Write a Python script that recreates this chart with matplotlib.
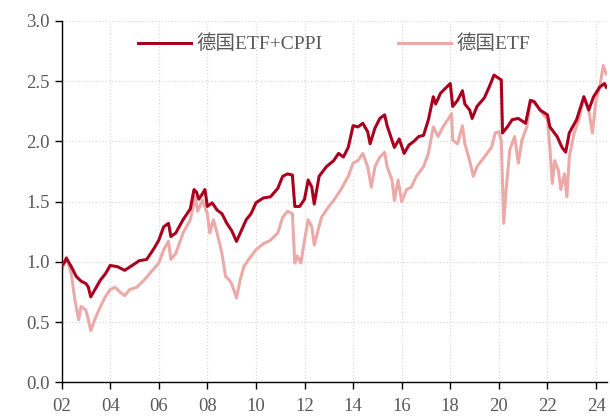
import numpy as np
import matplotlib.pyplot as plt

plt.rcParams['font.family'] = ['Liberation Serif', 'Noto Sans CJK SC']

# 德国ETF+CPPI (decimal year, value)
cppi_t = [2002.0, 2002.1, 2002.2, 2002.4, 2002.6, 2002.8, 2003.0, 2003.1, 2003.2, 2003.4,
          2003.6, 2003.8, 2004.0, 2004.3, 2004.6, 2004.9, 2005.2, 2005.5, 2005.8, 2006.0,
          2006.2, 2006.4, 2006.5, 2006.7, 2007.0, 2007.3, 2007.45, 2007.55, 2007.65, 2007.75,
          2007.9, 2008.0, 2008.2, 2008.4, 2008.6, 2008.8, 2009.0, 2009.2, 2009.4, 2009.6,
          2009.8, 2010.0, 2010.3, 2010.6, 2010.9, 2011.1, 2011.3, 2011.5, 2011.6, 2011.8,
          2012.0, 2012.15, 2012.3, 2012.4, 2012.6, 2012.9, 2013.2, 2013.4, 2013.6, 2013.8,
          2014.0, 2014.2, 2014.4, 2014.6, 2014.7, 2014.9, 2015.1, 2015.3, 2015.4, 2015.6,
          2015.7, 2015.9, 2016.1, 2016.3, 2016.5, 2016.7, 2016.9, 2017.1, 2017.3, 2017.4,
          2017.6, 2017.8, 2018.0, 2018.1, 2018.3, 2018.5, 2018.6, 2018.8, 2018.9, 2019.1,
          2019.4, 2019.6, 2019.8, 2019.95, 2020.1, 2020.15, 2020.35, 2020.55, 2020.8, 2021.1,
          2021.3, 2021.45, 2021.7, 2022.0, 2022.1, 2022.4, 2022.6, 2022.75, 2022.9, 2023.2,
          2023.5, 2023.7, 2023.9, 2024.15, 2024.35, 2024.42]
cppi_v = [0.97, 0.99, 1.03, 0.96, 0.88, 0.84, 0.82, 0.79, 0.71, 0.78,
          0.85, 0.90, 0.97, 0.96, 0.93, 0.97, 1.01, 1.02, 1.11, 1.18,
          1.29, 1.32, 1.21, 1.24, 1.35, 1.44, 1.60, 1.58, 1.52, 1.55,
          1.60, 1.46, 1.49, 1.43, 1.40, 1.32, 1.26, 1.17, 1.26, 1.35,
          1.40, 1.49, 1.53, 1.54, 1.61, 1.71, 1.73, 1.72, 1.46, 1.46,
          1.52, 1.68, 1.62, 1.48, 1.71, 1.79, 1.84, 1.90, 1.87, 1.95,
          2.13, 2.12, 2.15, 2.08, 1.98, 2.11, 2.19, 2.22, 2.13, 2.01,
          1.95, 2.02, 1.90, 1.97, 2.00, 2.04, 2.05, 2.18, 2.37, 2.31,
          2.40, 2.44, 2.48, 2.29, 2.34, 2.42, 2.31, 2.26, 2.19, 2.29,
          2.36, 2.45, 2.55, 2.53, 2.51, 2.07, 2.12, 2.18, 2.19, 2.15,
          2.34, 2.33, 2.26, 2.22, 2.12, 2.04, 1.95, 1.91, 2.07, 2.18,
          2.37, 2.26, 2.37, 2.45, 2.48, 2.45]

# 德国ETF
etf_t = [2002.0, 2002.2, 2002.4, 2002.55, 2002.7, 2002.8, 2003.0, 2003.1, 2003.2, 2003.4,
         2003.6, 2003.8, 2004.0, 2004.2, 2004.4, 2004.6, 2004.8, 2005.1, 2005.4, 2005.7,
         2006.0, 2006.2, 2006.4, 2006.5, 2006.7, 2007.0, 2007.3, 2007.5, 2007.6, 2007.8,
         2008.0, 2008.1, 2008.25, 2008.4, 2008.6, 2008.75, 2008.9, 2009.0, 2009.2, 2009.35,
         2009.5, 2009.7, 2010.0, 2010.3, 2010.6, 2010.9, 2011.1, 2011.3, 2011.5, 2011.6,
         2011.7, 2011.85, 2012.0, 2012.15, 2012.3, 2012.4, 2012.7, 2013.0, 2013.2, 2013.5,
         2013.8, 2014.0, 2014.2, 2014.4, 2014.6, 2014.75, 2014.9, 2015.1, 2015.3, 2015.4,
         2015.6, 2015.7, 2015.85, 2016.0, 2016.2, 2016.4, 2016.6, 2016.9, 2017.1, 2017.3,
         2017.5, 2017.7, 2017.9, 2018.05, 2018.1, 2018.3, 2018.5, 2018.6, 2018.8, 2018.95,
         2019.1, 2019.4, 2019.7, 2019.85, 2020.0, 2020.1, 2020.2, 2020.3, 2020.45, 2020.65,
         2020.8, 2020.95, 2021.15, 2021.3, 2021.45, 2021.7, 2022.0, 2022.1, 2022.2, 2022.3,
         2022.45, 2022.55, 2022.7, 2022.8, 2022.9, 2023.1, 2023.3, 2023.5, 2023.7, 2023.85,
         2024.0, 2024.15, 2024.3, 2024.42]
etf_v = [0.93, 1.04, 0.90, 0.68, 0.52, 0.63, 0.60, 0.52, 0.43, 0.54,
         0.63, 0.71, 0.77, 0.79, 0.75, 0.72, 0.77, 0.79, 0.85, 0.92,
         0.99, 1.10, 1.17, 1.02, 1.07, 1.24, 1.35, 1.54, 1.42, 1.51,
         1.40, 1.24, 1.35, 1.24, 1.07, 0.88, 0.85, 0.82, 0.70, 0.85,
         0.96, 1.02, 1.10, 1.15, 1.18, 1.24, 1.37, 1.42, 1.40, 0.99,
         1.05, 0.99, 1.18, 1.35, 1.29, 1.14, 1.37, 1.46, 1.51, 1.60,
         1.71, 1.82, 1.84, 1.90, 1.79, 1.62, 1.79, 1.87, 1.91, 1.79,
         1.68, 1.51, 1.68, 1.50, 1.60, 1.62, 1.71, 1.79, 1.90, 2.12,
         2.04, 2.12, 2.18, 2.23, 2.01, 1.98, 2.13, 1.98, 1.84, 1.71,
         1.79, 1.87, 1.95, 2.07, 2.08, 2.01, 1.32, 1.60, 1.93, 2.04,
         1.82, 2.01, 2.12, 2.34, 2.33, 2.26, 2.18, 1.95, 1.65, 1.84,
         1.76, 1.60, 1.73, 1.54, 1.87, 2.07, 2.18, 2.37, 2.26, 2.07,
         2.34, 2.45, 2.63, 2.56]

x_ticks = [2002, 2004, 2006, 2008, 2010, 2012, 2014, 2016, 2018, 2020, 2022, 2024]
x_labels = ['02', '04', '06', '08', '10', '12', '14', '16', '18', '20', '22', '24']
y_ticks = [0.0, 0.5, 1.0, 1.5, 2.0, 2.5, 3.0]

fig = plt.figure(figsize=(6.10, 4.17), dpi=100)
ax = fig.add_axes([0.101, 0.083, 0.894, 0.867])

ax.plot(cppi_t, cppi_v, color='#A8001E', lw=2.2, label='德国ETF+CPPI', zorder=3)
ax.plot(etf_t, etf_v, color='#EBAAA8', lw=2.2, label='德国ETF', zorder=2)

ax.set_xlim(2002, 2024.45)
ax.set_ylim(0, 3.0)
ax.set_xticks(x_ticks)
ax.set_xticklabels(x_labels)
ax.set_yticks(y_ticks)
ax.set_yticklabels(['%.1f' % v for v in y_ticks])

ax.grid(True, color='#D9D9D9', linestyle=':', linewidth=0.9)
for s in ['top', 'right']:
    ax.spines[s].set_visible(False)
for s in ['left', 'bottom']:
    ax.spines[s].set_color('black')
    ax.spines[s].set_linewidth(1.0)
ax.tick_params(axis='both', direction='out', length=5, width=1.0,
               colors='black', labelcolor='#595959', labelsize=13.5)
ax.tick_params(axis='x', pad=6)

ax.legend(loc='upper center', bbox_to_anchor=(0.5, 1.01), ncol=2, frameon=False,
          fontsize=14, handlelength=2.7, columnspacing=3.9, handletextpad=0.3,
          labelcolor='#595959')

fig.savefig('out.png', dpi=100)
